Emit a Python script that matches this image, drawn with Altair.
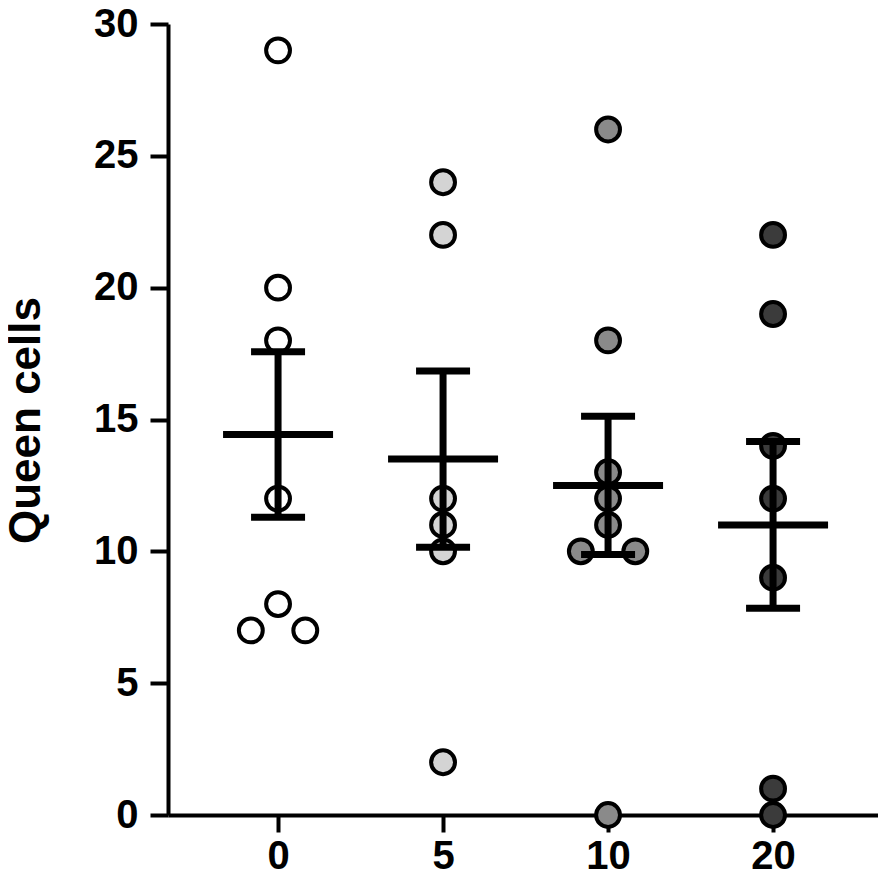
import altair as alt
import pandas as pd

# ---- data ----
doses = ["0", "5", "10", "20"]
group_0 = [29, 20, 18, 12, 8, 7, 7]
group_5 = [24, 22, 12, 11, 10, 2]
group_10 = [26, 18, 13, 12, 11, 10, 10, 0]
group_20 = [22, 19, 14, 12, 9, 1, 0]
fill_colors = ["#ffffff", "#d4d4d4", "#8a8a8a", "#3b3b3b"]

# ---- style constants ----
JITTER_STEP = 0.33      # spacing (in category units) between points with the same value
FONT = "Liberation Sans"

rows = []
for i, vals in enumerate([group_0, group_5, group_10, group_20]):
    counts = {}
    for v in vals:
        counts[v] = counts.get(v, 0) + 1
    seen = {}
    for v in vals:
        n = counts[v]
        k = seen.get(v, 0)
        seen[v] = k + 1
        off = (k - (n - 1) / 2) * JITTER_STEP
        rows.append({"dose": doses[i], "idx": i, "xpos": i + off, "value": v})
df = pd.DataFrame(rows)

label_expr = "[" + ",".join(f"'{d}'" for d in doses) + "][datum.value]"

x_scale = alt.Scale(domain=[-0.667, 3.636], nice=False, zero=False)
y_scale = alt.Scale(domain=[0, 30], nice=False)

x_axis = alt.Axis(values=[0, 1, 2, 3], labelExpr=label_expr, title=None,
                  tickSize=17, labelPadding=4)
y_axis = alt.Axis(values=[0, 5, 10, 15, 20, 25, 30], title="Queen cells",
                  tickSize=18, labelPadding=12,
                  titleFontSize=44, titleFont=FONT, titleFontWeight="bold",
                  titleAngle=270, titleX=-142, titleY=396,
                  titleAlign="center", titleBaseline="middle", titleColor="black")

points = alt.Chart(df).mark_circle(
    size=570, stroke="black", strokeWidth=4, opacity=1
).encode(
    x=alt.X("xpos:Q", scale=x_scale, axis=x_axis),
    y=alt.Y("value:Q", scale=y_scale, axis=y_axis),
    fill=alt.Fill("dose:N", scale=alt.Scale(domain=doses, range=fill_colors), legend=None),
)

stats = alt.Chart(df).transform_aggregate(
    m="mean(value)", se="stderr(value)", groupby=["idx"]
).transform_calculate(
    lo="datum.m - datum.se", hi="datum.m + datum.se"
)

vline = stats.mark_rule(strokeWidth=7, color="black", opacity=1).encode(
    x=alt.X("idx:Q", scale=x_scale),
    y=alt.Y("lo:Q", scale=y_scale),
    y2="hi:Q",
)
cap_lo = stats.mark_tick(orient="horizontal", size=54, thickness=7,
                         color="black", opacity=1).encode(
    x=alt.X("idx:Q", scale=x_scale), y=alt.Y("lo:Q", scale=y_scale))
cap_hi = stats.mark_tick(orient="horizontal", size=54, thickness=7,
                         color="black", opacity=1).encode(
    x=alt.X("idx:Q", scale=x_scale), y=alt.Y("hi:Q", scale=y_scale))
mean_line = stats.mark_tick(orient="horizontal", size=110, thickness=7,
                            color="black", opacity=1).encode(
    x=alt.X("idx:Q", scale=x_scale), y=alt.Y("m:Q", scale=y_scale))

chart = alt.layer(points, vline, cap_lo, cap_hi, mean_line).properties(
    width=710, height=791,
    autosize=alt.AutoSizeParams(type="none"),
    padding={"left": 160, "top": 16, "right": 0, "bottom": 63},
    background="white",
).configure_view(stroke=None).configure_axis(
    grid=False,
    domainColor="black", domainWidth=4,
    tickColor="black", tickWidth=4,
    labelFont=FONT, labelFontWeight="bold", labelFontSize=40, labelColor="black",
)

chart.save("out.html", embed_options={"renderer": "svg", "actions": False})
